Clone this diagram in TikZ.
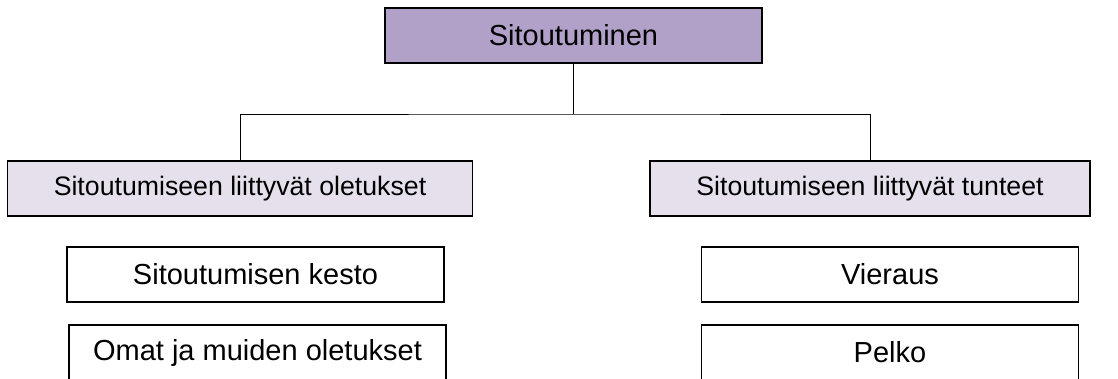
\documentclass[tikz,border=0pt]{standalone}
\usepackage{fontspec}
\setmainfont{Liberation Sans}
\definecolor{rootfill}{HTML}{B1A0C7}
\definecolor{midfill}{HTML}{E5E0EC}
\begin{document}
\begin{tikzpicture}[x=1pt,y=-1pt,
  box/.style={draw=black, line width=1.4pt, rectangle, inner sep=0pt,
    minimum height=55pt, font=\fontsize{29}{33}\selectfont, text=black},
  rootbox/.style={box, fill=rootfill, minimum width=377pt},
  midbox/.style={box, fill=midfill, font=\fontsize{26.7}{30}\selectfont},
  leafbox/.style={box, fill=white, minimum width=377pt},
  conn/.style={draw=black, line width=0.9pt}]
\useasboundingbox (0,0) rectangle (1118,378);
\clip (0,0) rectangle (1118,378);
\fill[white] (0,0) rectangle (1118,378);

\node[rootbox] (top) at (573.5,35.5) {Sitoutuminen};
\node[midbox, minimum width=465pt] (left) at (240,188.5) {Sitoutumiseen liittyvät oletukset};
\node[midbox, minimum width=440pt] (right) at (870,188.5) {Sitoutumiseen liittyvät tunteet};

\node[leafbox] (l1) at (255.5,274.5) {Sitoutumisen kesto};
\node[leafbox] (l2) at (257.5,352.5) {Omat ja muiden oletukset};
\node[leafbox] (r1) at (890,274.5) {Vieraus};
\node[leafbox] (r2) at (890,352.5) {Pelko};

\coordinate (bar) at (0,114);
\coordinate (hub) at (top.south |- bar);
\draw[conn] (top.south) -- (hub);
\draw[conn] (left.north) |- (hub) -| (right.north);
\end{tikzpicture}
\end{document}
